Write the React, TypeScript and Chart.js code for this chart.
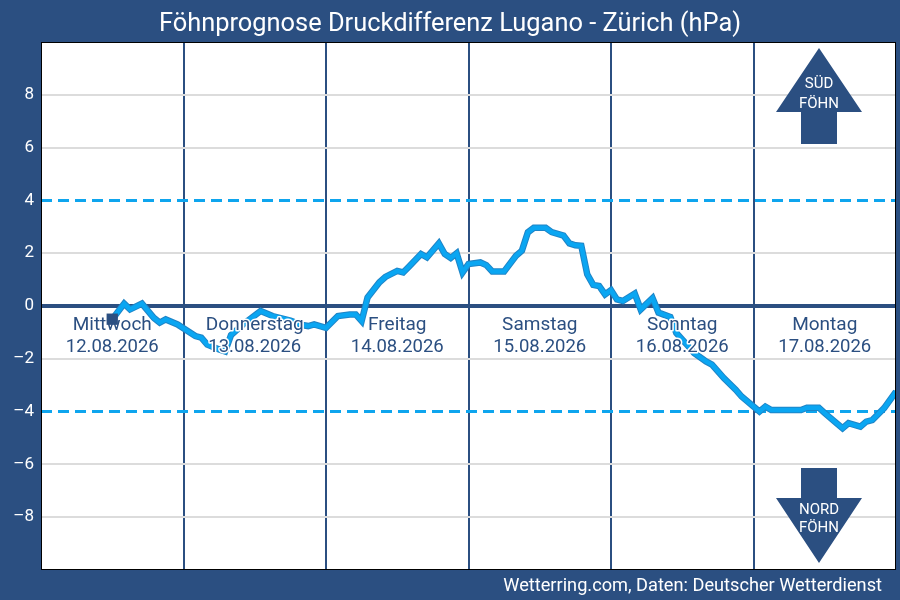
import React, { useEffect, useRef } from "react";
import { Chart, registerables } from "chart.js";

Chart.register(...registerables);

// Forecast hours since Wednesday 12.08.2026 00:00
const hours = [12, 14, 15, 17, 19, 20, 21, 23, 26, 27, 28, 30, 31, 32, 34, 37, 39, 42, 44, 45, 46, 48, 50, 52, 53, 54, 55, 57, 58, 60, 61, 62, 64, 65, 67, 68, 69, 70, 71, 72, 74, 75, 76, 78, 80, 81, 82, 83, 85, 86, 88, 89, 90, 91, 92, 93, 94, 95, 96, 97, 98, 100, 101, 103, 104, 106, 107, 109, 110, 112, 113, 115, 117, 118, 120, 121, 122, 123, 128, 129, 131, 132, 134, 135, 136, 138, 139, 140, 142, 144];
// Pressure difference Lugano - Zürich (hPa)
const diff = [-0.5, 0.09, -0.13, 0.09, -0.45, -0.63, -0.51, -0.7, -1.14, -1.2, -1.46, -1.65, -1.72, -1.1, -0.7, -0.19, -0.38, -0.55, -0.72, -0.76, -0.7, -0.83, -0.38, -0.32, -0.32, -0.57, 0.32, 0.9, 1.1, 1.33, 1.27, 1.5, 1.97, 1.84, 2.37, 1.97, 1.82, 2.0, 1.27, 1.59, 1.65, 1.55, 1.31, 1.31, 1.9, 2.1, 2.79, 2.96, 2.96, 2.8, 2.67, 2.37, 2.3, 2.28, 1.2, 0.8, 0.76, 0.44, 0.6, 0.25, 0.19, 0.47, -0.13, 0.3, -0.25, -0.42, -1.02, -1.52, -1.78, -2.1, -2.22, -2.73, -3.17, -3.43, -3.81, -4.0, -3.81, -3.94, -3.94, -3.85, -3.85, -4.06, -4.44, -4.63, -4.44, -4.57, -4.38, -4.32, -3.87, -3.24];

const dayNames = ["Mittwoch", "Donnerstag", "Freitag", "Samstag", "Sonntag", "Montag"];
const dayDates = ["12.08.2026", "13.08.2026", "14.08.2026", "15.08.2026", "16.08.2026", "17.08.2026"];
const thresholds = [4, -4];
const yTicks = [-10, -8, -6, -4, -2, 0, 2, 4, 6, 8, 10];

const TITLE = "Föhnprognose Druckdifferenz Lugano - Zürich (hPa)";
const CREDIT = "Wetterring.com, Daten: Deutscher Wetterdienst";

const NAVY = "#2b4f81";
const LIGHT = "#0ea5ee";
const FONT = "Roboto, 'Noto Sans', sans-serif";

export default function App() {
  const ref = useRef<HTMLCanvasElement | null>(null);

  useEffect(() => {
    document.body.style.margin = "0";
    const canvas = ref.current;
    if (!canvas) return;

    const points = hours.map((h, i) => ({ x: h, y: diff[i] }));

    const decor = {
      id: "decor",
      beforeDraw(chart: any) {
        const { ctx, chartArea: a, width, height } = chart;
        ctx.save();
        ctx.fillStyle = NAVY;
        ctx.fillRect(0, 0, width, height);
        ctx.fillStyle = "#ffffff";
        ctx.fillRect(a.left, a.top, a.right - a.left, a.bottom - a.top);
        ctx.fillStyle = "#ffffff";
        ctx.font = `25.4px ${FONT}`;
        ctx.textAlign = "center";
        ctx.textBaseline = "alphabetic";
        ctx.fillText(TITLE, width / 2, 31);
        ctx.font = `18.2px ${FONT}`;
        ctx.textAlign = "right";
        ctx.fillText(CREDIT, 882, 591);
        ctx.restore();
      },
      beforeDatasetsDraw(chart: any) {
        const { ctx, chartArea: a, scales } = chart;
        const y = scales.y;
        ctx.save();
        ctx.beginPath();
        ctx.rect(a.left, a.top, a.right - a.left, a.bottom - a.top);
        ctx.clip();
        ctx.strokeStyle = LIGHT;
        ctx.lineWidth = 3;
        ctx.setLineDash([11, 6]);
        thresholds.forEach((t) => {
          const py = y.getPixelForValue(t);
          ctx.beginPath();
          ctx.moveTo(a.left, py);
          ctx.lineTo(a.right, py);
          ctx.stroke();
        });
        ctx.setLineDash([]);
        ctx.strokeStyle = NAVY;
        ctx.lineWidth = 4;
        const p0 = y.getPixelForValue(0);
        ctx.beginPath();
        ctx.moveTo(a.left, p0);
        ctx.lineTo(a.right, p0);
        ctx.stroke();
        ctx.restore();
      },
      afterDatasetDraw(chart: any, args: any) {
        if (args.index !== 1) return;
        const { ctx, scales } = chart;
        const x = scales.x;
        const p0 = scales.y.getPixelForValue(0);
        ctx.save();
        ctx.textAlign = "center";
        ctx.textBaseline = "alphabetic";
        ctx.lineJoin = "round";
        dayNames.forEach((name, i) => {
          const cx = x.getPixelForValue(i * 24 + 12);
          [
            [name, p0 + 24, 19],
            [dayDates[i], p0 + 45.5, 18.5],
          ].forEach(([t, py, fs]: any) => {
            ctx.font = `${fs}px ${FONT}`;
            ctx.strokeStyle = "#ffffff";
            ctx.lineWidth = 3;
            ctx.strokeText(t, cx, py);
            ctx.fillStyle = NAVY;
            ctx.fillText(t, cx, py);
          });
        });
        ctx.restore();
      },
      afterDraw(chart: any) {
        const { ctx, chartArea: a } = chart;
        ctx.save();
        ctx.strokeStyle = "#000000";
        ctx.lineWidth = 1;
        ctx.strokeRect(a.left + 0.5, a.top + 0.5, a.right - a.left - 1, a.bottom - a.top - 1);
        const cx = a.right - 77;
        ctx.fillStyle = NAVY;
        const t = a.top;
        ctx.beginPath();
        ctx.moveTo(cx, t + 6);
        ctx.lineTo(cx + 43, t + 70);
        ctx.lineTo(cx + 18, t + 70);
        ctx.lineTo(cx + 18, t + 102);
        ctx.lineTo(cx - 18, t + 102);
        ctx.lineTo(cx - 18, t + 70);
        ctx.lineTo(cx - 43, t + 70);
        ctx.closePath();
        ctx.fill();
        const b = a.bottom;
        ctx.beginPath();
        ctx.moveTo(cx, b - 7);
        ctx.lineTo(cx + 43, b - 72);
        ctx.lineTo(cx + 18, b - 72);
        ctx.lineTo(cx + 18, b - 102);
        ctx.lineTo(cx - 18, b - 102);
        ctx.lineTo(cx - 18, b - 72);
        ctx.lineTo(cx - 43, b - 72);
        ctx.closePath();
        ctx.fill();
        ctx.fillStyle = "#ffffff";
        ctx.font = `15px ${FONT}`;
        ctx.textAlign = "center";
        ctx.textBaseline = "alphabetic";
        ctx.fillText("SÜD", cx, t + 46);
        ctx.fillText("FÖHN", cx, t + 66);
        ctx.fillText("NORD", cx, b - 56);
        ctx.fillText("FÖHN", cx, b - 38);
        ctx.restore();
      },
    };

    const chart = new Chart(canvas, {
      type: "line",
      data: {
        datasets: [
          {
            label: "marker",
            data: [points[0]],
            showLine: false,
            pointStyle: "rect",
            pointRadius: 8,
            pointBackgroundColor: NAVY,
            pointBorderColor: NAVY,
            pointBorderWidth: 0,
            order: 0,
          },
          {
            label: "Druckdifferenz",
            data: points,
            borderColor: "#0aa6f2",
            borderWidth: 4.5,
            pointRadius: 0,
            tension: 0,
            fill: false,
            order: 1,
          },
          {
            label: "outline",
            data: points,
            borderColor: "#1f84c6",
            borderWidth: 6.5,
            pointRadius: 0,
            tension: 0,
            fill: false,
            order: 2,
          },
        ],
      },
      options: {
        animation: false,
        responsive: false,
        maintainAspectRatio: false,
        devicePixelRatio: 1,
        layout: { autoPadding: false, padding: { top: 42, bottom: 30, left: 0, right: 4 } },
        plugins: {
          legend: { display: false },
          tooltip: { enabled: false },
          title: { display: false },
        },
        scales: {
          x: {
            type: "linear",
            min: 0,
            max: 144,
            afterBuildTicks: (s: any) => {
              s.ticks = [0, 24, 48, 72, 96, 120, 144].map((v) => ({ value: v }));
            },
            afterFit: (s: any) => {
              s.height = 0;
            },
            ticks: { display: false },
            border: { display: false },
            grid: {
              drawTicks: false,
              lineWidth: 2,
              color: (c: any) =>
                c.tick && c.tick.value > 0 && c.tick.value < 144 ? NAVY : "rgba(0,0,0,0)",
            },
          },
          y: {
            min: -10,
            max: 10,
            afterBuildTicks: (s: any) => {
              s.ticks = yTicks.map((v) => ({ value: v }));
            },
            afterFit: (s: any) => {
              s.width = 41;
            },
            border: { display: false },
            grid: {
              drawTicks: false,
              lineWidth: 2,
              color: (c: any) => {
                const v = c.tick ? c.tick.value : 0;
                return v === 0 || Math.abs(v) === 4 || Math.abs(v) === 10 ? "rgba(0,0,0,0)" : "#dcdcdc";
              },
            },
            ticks: {
              padding: 7,
              color: "#ffffff",
              font: { family: FONT, size: 17 },
              callback: (v: any) => {
                const n = Number(v);
                if (Math.abs(n) === 10) return "";
                return n < 0 ? "\u2013" + Math.abs(n) : String(n);
              },
            },
          },
        },
      },
      plugins: [decor],
    });

    return () => chart.destroy();
  }, []);

  return <canvas ref={ref} width={900} height={600} style={{ display: "block", width: 900, height: 600 }} />;
}
